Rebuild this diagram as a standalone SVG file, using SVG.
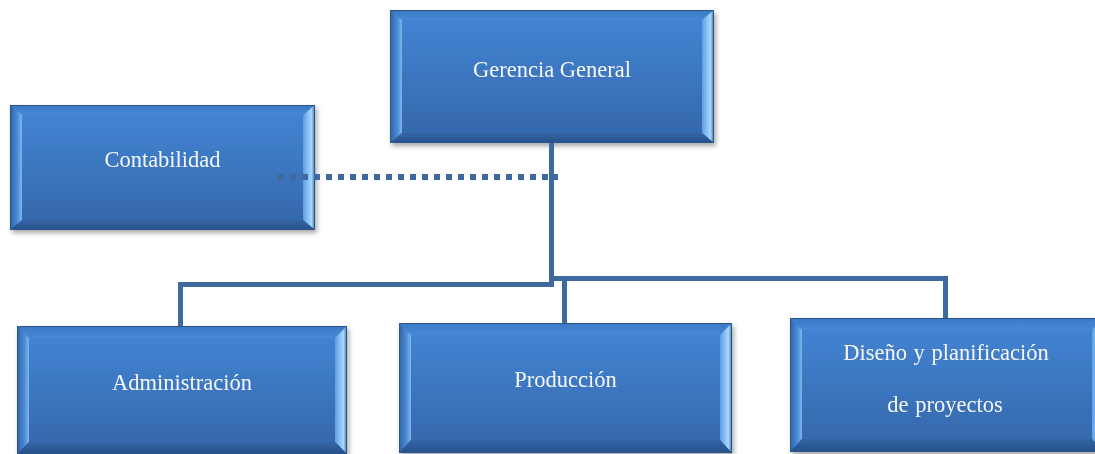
<svg xmlns="http://www.w3.org/2000/svg" width="1095" height="454" viewBox="0 0 1095 454">
<defs>
<linearGradient id="gFace" x1="0" y1="0" x2="0" y2="1"><stop offset="0" stop-color="#4386d6"/><stop offset="1" stop-color="#3566a9"/></linearGradient>
<linearGradient id="gTop" x1="0" y1="0" x2="0" y2="1"><stop offset="0" stop-color="#3d78c2"/><stop offset="1" stop-color="#4689d8"/></linearGradient>
<linearGradient id="gLeft" x1="0" y1="0" x2="1" y2="0"><stop offset="0" stop-color="#2f62a6"/><stop offset="0.6" stop-color="#4a8ad4"/><stop offset="1" stop-color="#7fb6ee"/></linearGradient>
<linearGradient id="gRight" x1="0" y1="0" x2="1" y2="0"><stop offset="0" stop-color="#5d9ee4"/><stop offset="0.7" stop-color="#a9d8ff"/><stop offset="1" stop-color="#3d6ea8"/></linearGradient>
<linearGradient id="gBot" x1="0" y1="0" x2="0" y2="1"><stop offset="0" stop-color="#3465a6"/><stop offset="1" stop-color="#26508a"/></linearGradient>
<filter id="sh" x="-5%" y="-5%" width="115%" height="125%"><feDropShadow dx="2" dy="3" stdDeviation="2.5" flood-color="#000" flood-opacity="0.35"/></filter>
</defs>
<style>
.face{fill:url(#gFace)}
.bt{fill:url(#gTop)}
.bl{fill:url(#gLeft)}
.br{fill:url(#gRight)}
.bb{fill:url(#gBot)}
.edge{fill:none;stroke:#2b5588;stroke-width:1}
.lbl{font-family:"Liberation Serif","DejaVu Serif",serif;font-size:22.5px;fill:#f5f7fb;text-anchor:middle}
.ln{fill:none;stroke:#3e6a9f;stroke-width:5}
.dot{fill:none;stroke:#3e6a9f;stroke-width:6;stroke-dasharray:6 6}
</style>

<g id="gerencia" filter="url(#sh)">
<rect class="face" x="390" y="10" width="324" height="133"/>
<polygon class="bt" points="390,10 714,10 702,20 402,20"/>
<polygon class="bl" points="390,10 402,20 402,133 390,143"/>
<polygon class="br" points="714,10 714,143 702,133 702,20"/>
<polygon class="bb" points="390,143 714,143 702,133 402,133"/>
<rect class="edge" x="390.5" y="10.5" width="323" height="132"/>
<text class="lbl" x="552" y="77">Gerencia General</text>
</g>

<g id="contabilidad" filter="url(#sh)">
<rect class="face" x="10" y="105" width="305" height="125"/>
<polygon class="bt" points="10,105 315,105 303,115 22,115"/>
<polygon class="bl" points="10,105 22,115 22,220 10,230"/>
<polygon class="br" points="315,105 315,230 303,220 303,115"/>
<polygon class="bb" points="10,230 315,230 303,220 22,220"/>
<rect class="edge" x="10.5" y="105.5" width="304" height="124"/>
<text class="lbl" x="162.5" y="167">Contabilidad</text>
</g>

<g id="administracion" filter="url(#sh)">
<rect class="face" x="17" y="326" width="330" height="128"/>
<polygon class="bt" points="17,326 347,326 335,338 29,338"/>
<polygon class="bl" points="17,326 29,338 29,442 17,454"/>
<polygon class="br" points="347,326 347,454 335,442 335,338"/>
<polygon class="bb" points="17,454 347,454 335,442 29,442"/>
<rect class="edge" x="17.5" y="326.5" width="329" height="127"/>
<text class="lbl" x="182" y="390">Administración</text>
</g>

<g id="produccion" filter="url(#sh)">
<rect class="face" x="399" y="323" width="333" height="130"/>
<polygon class="bt" points="399,323 732,323 720,335 411,335"/>
<polygon class="bl" points="399,323 411,335 411,440 399,453"/>
<polygon class="br" points="732,323 732,453 720,440 720,335"/>
<polygon class="bb" points="399,453 732,453 720,440 411,440"/>
<rect class="edge" x="399.5" y="323.5" width="332" height="129"/>
<text class="lbl" x="565.5" y="387">Producción</text>
</g>

<g id="diseno" filter="url(#sh)">
<rect class="face" x="790" y="318" width="314" height="134"/>
<polygon class="bt" points="790,318 1104,318 1092,330 802,330"/>
<polygon class="bl" points="790,318 802,330 802,439 790,452"/>
<polygon class="br" points="1104,318 1104,452 1092,439 1092,330"/>
<polygon class="bb" points="790,452 1104,452 1092,439 802,439"/>
<rect class="edge" x="790.5" y="318.5" width="313" height="133"/>
<text class="lbl" x="946" y="360" word-spacing="1">Diseño y planificación</text>
<text class="lbl" x="945" y="412" word-spacing="1">de proyectos</text>
</g>

<g id="connectors">
<path class="ln" d="M551.5,143 V284.5"/>
<path class="ln" d="M554,284.5 H180.5 V326"/>
<path class="ln" d="M549,278.5 H945.5 V318"/>
<path class="ln" d="M564.5,278.5 V323"/>
<path class="dot" d="M278,177 H558"/>
</g>
</svg>
